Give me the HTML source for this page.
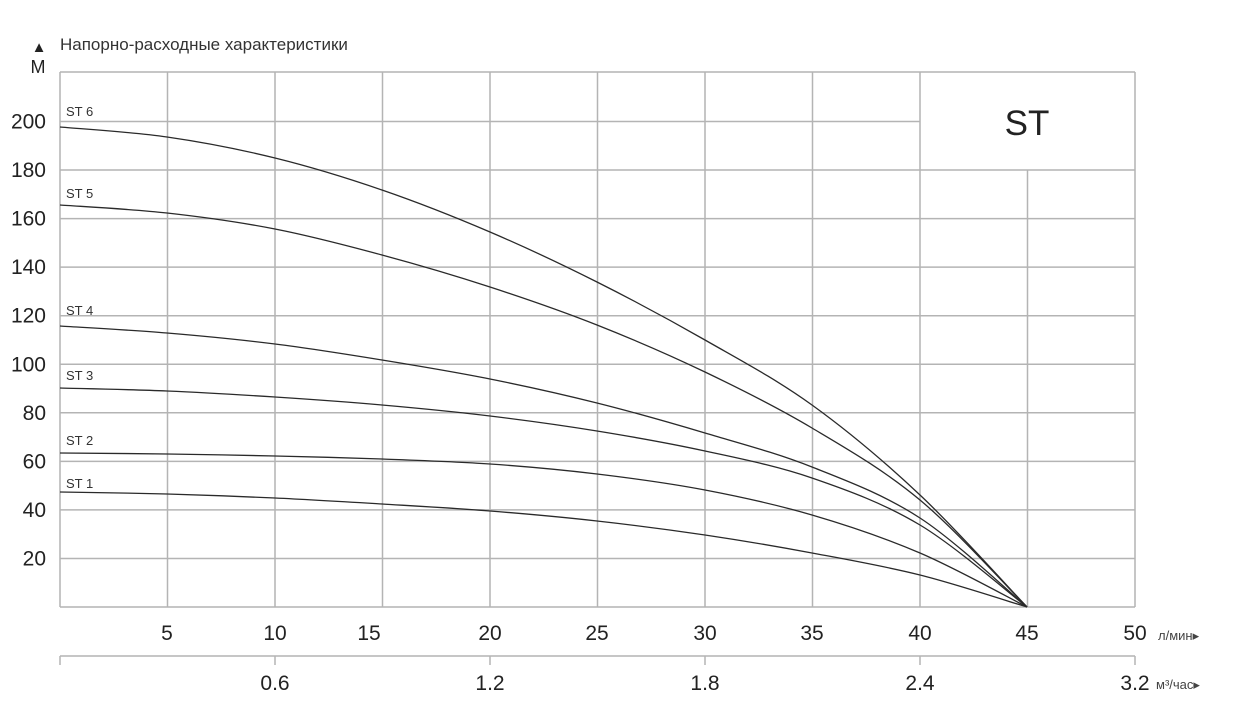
<!DOCTYPE html>
<html><head><meta charset="utf-8"><style>
body{margin:0;background:#fff;width:1247px;height:719px;overflow:hidden}
svg{display:block;font-family:"Liberation Sans","DejaVu Sans",sans-serif}
</style></head><body>
<svg id="s" width="1247" height="719" viewBox="0 0 1247 719">
<g stroke="#b4b4b4" stroke-width="1.5" fill="none" id="grid"></g>
<g id="curves" stroke="#2a2a2a" stroke-width="1.3" fill="none"></g>
<g fill="#222" font-size="21">
<text x="39" y="52" font-size="15" text-anchor="middle">▲</text>
<text x="38" y="73" font-size="18" text-anchor="middle">M</text>
<text x="60" y="50" font-size="17" fill="#333">Напорно-расходные характеристики</text>
<text x="1027" y="135" font-size="35" text-anchor="middle">ST</text>
<g font-size="13" fill="#333">
<text x="66" y="116">ST 6</text><text x="66" y="198">ST 5</text><text x="66" y="315">ST 4</text>
<text x="66" y="380">ST 3</text><text x="66" y="445">ST 2</text><text x="66" y="488">ST 1</text></g>
<g text-anchor="end" id="ylab"></g>
<g text-anchor="middle" id="xlab"></g>
<text x="1158" y="640" font-size="13" fill="#444">л/мин▸</text>
<text x="1156" y="689" font-size="13" fill="#444">м³/час▸</text>
</g>
</svg>
<script>
var ns="http://www.w3.org/2000/svg";
function el(p,t,a,txt){var e=document.createElementNS(ns,t);for(var k in a)e.setAttribute(k,a[k]);if(txt)e.textContent=txt;document.getElementById(p).appendChild(e);}
var X=function(q){return 60+q*21.5}, Y=function(h){return 607-h*2.4275};
el("grid","line",{x1:60,y1:72,x2:1135,y2:72});
el("grid","line",{x1:60,y1:607,x2:1135,y2:607});
el("grid","line",{x1:60,y1:72,x2:60,y2:607});
el("grid","line",{x1:1135,y1:72,x2:1135,y2:607});
for(var i=1;i<=9;i++){var x=X(i*5);el("grid","line",{x1:x,y1:i==9?170:72,x2:x,y2:607});}
for(var h=20;h<=200;h+=20){var y=Y(h);el("grid","line",{x1:60,y1:y,x2:h==200?920:1135,y2:y});
 el("ylab","text",{x:46,y:y+7},String(h));}
var xl=[[167,"5"],[275,"10"],[369,"15"],[490,"20"],[597,"25"],[705,"30"],[812,"35"],[920,"40"],[1027,"45"],[1135,"50"]];
xl.forEach(function(a){el("xlab","text",{x:a[0],y:640},a[1]);});
el("grid","line",{x1:60,y1:656,x2:1135,y2:656});
[60,275,490,705,920,1135].forEach(function(x){el("grid","line",{x1:x,y1:656,x2:x,y2:665});});
[[275,"0.6"],[490,"1.2"],[705,"1.8"],[920,"2.4"],[1135,"3.2"]].forEach(function(a){el("xlab","text",{x:a[0],y:690},a[1]);});
var xs=[60,167,275,382,490,597,705,812,920,1027];
var C=[[127,137,158,190,232,282,340,405,495,607],
[205,213,229,255,287,325,372,428,500,607],
[326,333,344,360,379,403,433,467,518,607],
[388,391,397,405,416,431,451,478,525,607],
[453,454,456,459,464,474,490,515,553,607],
[492,494,498,504,511,521,535,553,575,607]];
C.forEach(function(c){var p=xs.map(function(x,i){return [x,c[i]]});var d="M"+p[0];
for(var i=0;i<p.length-1;i++){var p0=p[i-1]||p[i],p1=p[i],p2=p[i+1],p3=p[i+2]||p2;
d+=" C"+(p1[0]+(p2[0]-p0[0])/6)+","+(p1[1]+(p2[1]-p0[1])/6)+" "+(p2[0]-(p3[0]-p1[0])/6)+","+(p2[1]-(p3[1]-p1[1])/6)+" "+p2;}
el("curves","path",{d:d});});
</script>
</body></html>
